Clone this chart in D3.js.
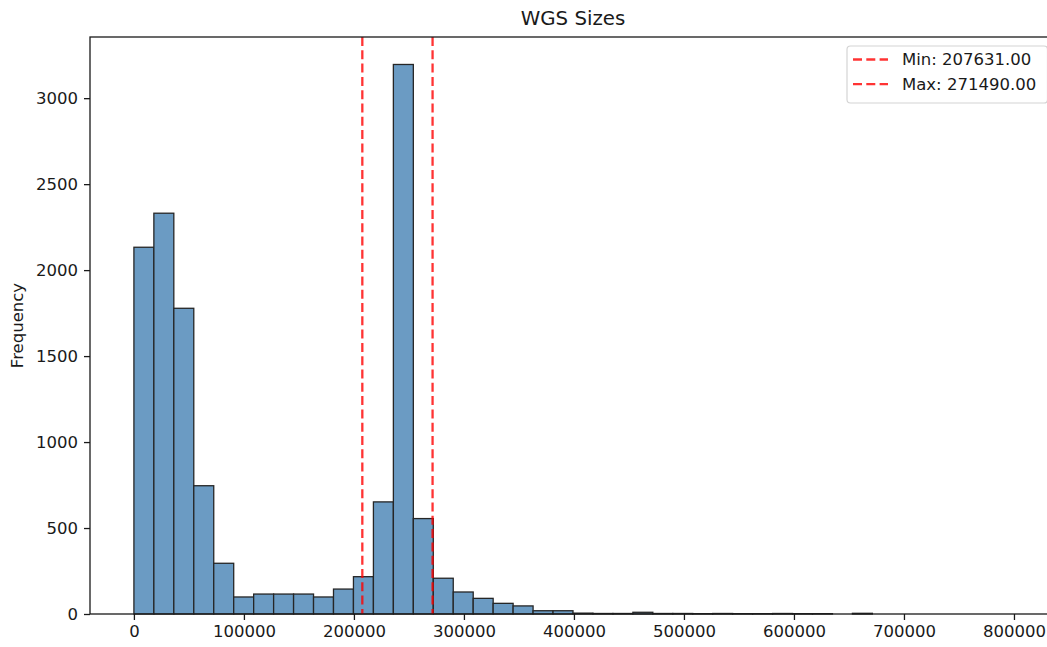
<!DOCTYPE html>
<html>
<head>
<meta charset="utf-8">
<script src="https://cdn.jsdelivr.net/npm/d3@7"></script>
<style>
  html, body { margin: 0; padding: 0; background: #fff; }
  svg text { font-family: "DejaVu Sans", sans-serif; fill: #1a1a1a; }
</style>
</head>
<body>
<svg id="chart" width="1047" height="647"></svg>
<script>
// Histogram of WGS sizes: 44 equal-width bins starting at 0
const binStart = 0;
const binWidth = 18143;
const binCounts = [
  2133, 2331, 1778, 746, 295, 99, 116, 116, 116, 99,
  145, 217, 652, 3196, 555, 208, 128, 91, 62, 47,
  19, 19, 5, 3, 3, 10, 3, 3, 2, 3,
  2, 2, 3, 2, 2, 0, 4, 0, 0, 0,
  0, 0, 0, 0
];
const xTicks = [0, 100000, 200000, 300000, 400000, 500000, 600000, 700000, 800000];
const yTicks = [0, 500, 1000, 1500, 2000, 2500, 3000];
const minSize = 207631.00;
const maxSize = 271490.00;
const legendLabels = ["Min: 207631.00", "Max: 271490.00"];

const bins = binCounts.map((c, i) => ({
  x0: binStart + i * binWidth,
  x1: binStart + (i + 1) * binWidth,
  count: c
}));

const plot = { left: 90, right: 1056, top: 37, bottom: 614 };
const span = binWidth * binCounts.length;

const x = d3.scaleLinear()
  .domain([binStart - 0.05 * span, binStart + 1.05 * span])
  .range([plot.left, plot.right]);
const y = d3.scaleLinear()
  .domain([0, 1.05 * d3.max(binCounts)])
  .range([plot.bottom, plot.top]);

const svg = d3.select("#chart");
const fontSize = 16.5;

// bars (empty bins are not drawn)
svg.append("g")
  .selectAll("rect")
  .data(bins.filter(d => d.count > 0))
  .join("rect")
  .attr("x", d => x(d.x0))
  .attr("y", d => y(d.count))
  .attr("width", d => x(d.x1) - x(d.x0))
  .attr("height", d => y(0) - y(d.count))
  .attr("fill", "#6b9bc3")
  .attr("stroke", "#262626")
  .attr("stroke-width", 1.3);

// min / max reference lines
svg.append("g")
  .selectAll("line")
  .data([minSize, maxSize])
  .join("line")
  .attr("x1", d => x(d)).attr("x2", d => x(d))
  .attr("y1", plot.top).attr("y2", plot.bottom)
  .attr("stroke", "#ff0000")
  .attr("stroke-opacity", 0.8)
  .attr("stroke-width", 2.3)
  .attr("stroke-dasharray", "9,4.3");

// axes
const xAxis = svg.append("g")
  .attr("transform", `translate(0,${plot.bottom})`)
  .call(d3.axisBottom(x).tickValues(xTicks).tickFormat(d3.format("d"))
    .tickSize(6).tickPadding(5));
const yAxis = svg.append("g")
  .attr("transform", `translate(${plot.left},0)`)
  .call(d3.axisLeft(y).tickValues(yTicks).tickFormat(d3.format("d"))
    .tickSize(6).tickPadding(6));

[xAxis, yAxis].forEach(g => {
  g.select(".domain").remove();
  g.selectAll(".tick line").attr("stroke", "#1a1a1a").attr("stroke-width", 1.3);
  g.selectAll(".tick text")
    .style("font-size", fontSize + "px")
    .style("font-family", "DejaVu Sans, sans-serif")
    .attr("fill", "#1a1a1a");
});

// spines
svg.append("rect")
  .attr("x", plot.left).attr("y", plot.top)
  .attr("width", plot.right - plot.left)
  .attr("height", plot.bottom - plot.top)
  .attr("fill", "none")
  .attr("stroke", "#1a1a1a")
  .attr("stroke-width", 1.3);

// title and axis label
svg.append("text")
  .attr("x", (plot.left + plot.right) / 2)
  .attr("y", 25)
  .attr("text-anchor", "middle")
  .style("font-size", "19.8px")
  .text("WGS Sizes");

svg.append("text")
  .attr("transform", `translate(23,${(plot.top + plot.bottom) / 2}) rotate(-90)`)
  .attr("text-anchor", "middle")
  .style("font-size", fontSize + "px")
  .text("Frequency");

// legend
const legend = svg.append("g");
legend.append("rect")
  .attr("x", 847).attr("y", 46)
  .attr("width", 200.5).attr("height", 57)
  .attr("rx", 3.5)
  .attr("fill", "#fff").attr("fill-opacity", 0.8)
  .attr("stroke", "#d4d4d4").attr("stroke-width", 1.2);

legendLabels.forEach((label, i) => {
  const cy = 59.5 + i * 24.6;
  legend.append("line")
    .attr("x1", 853).attr("x2", 888)
    .attr("y1", cy).attr("y2", cy)
    .attr("stroke", "#ff0000").attr("stroke-opacity", 0.8)
    .attr("stroke-width", 2.3)
    .attr("stroke-dasharray", "9,4.3");
  legend.append("text")
    .attr("x", 902)
    .attr("y", cy)
    .attr("dy", "0.36em")
    .style("font-size", fontSize + "px")
    .text(label);
});
</script>
</body>
</html>
